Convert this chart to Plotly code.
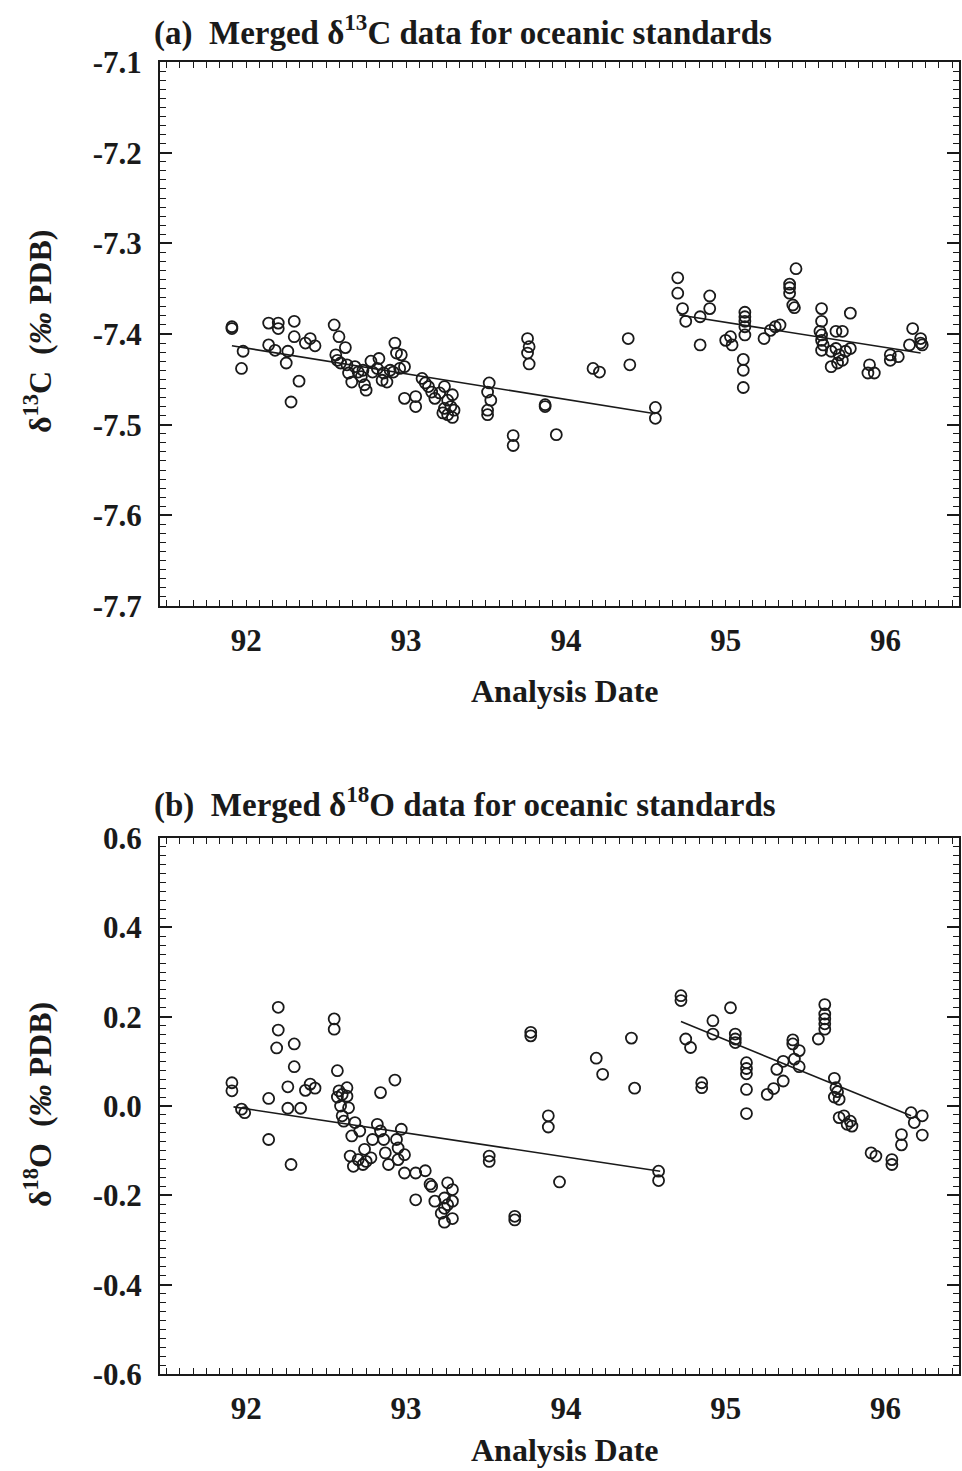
import plotly.graph_objects as go

# ---- (a) delta 13C, oceanic standards ----
c13_date = [91.91, 91.91, 91.98, 91.97, 92.14, 92.20, 92.20, 92.30, 92.14, 92.18,
            92.26, 92.30, 92.25, 92.37, 92.40, 92.43, 92.33, 92.28, 92.55, 92.58,
            92.62, 92.56, 92.57, 92.59, 92.63, 92.64, 92.66, 92.68, 92.70, 92.72,
            92.74, 92.75, 92.73, 92.78, 92.79, 92.83, 92.82, 92.85, 92.88, 92.86,
            92.90, 92.93, 92.94, 92.97, 92.96, 92.99, 92.92, 92.99, 93.06, 93.06,
            93.10, 93.12, 93.14, 93.16, 93.18, 93.21, 93.24, 93.26, 93.28, 93.29,
            93.24, 93.26, 93.29, 93.30, 93.23, 93.52, 93.51, 93.53, 93.51, 93.51,
            93.76, 93.77, 93.76, 93.77, 93.87, 93.87, 93.67, 93.67, 93.94, 94.17,
            94.21, 94.39, 94.40, 94.56, 94.56, 94.70, 94.70, 94.73, 94.75, 94.84,
            94.90, 94.90, 94.84, 95.00, 95.03, 95.04, 95.12, 95.12, 95.12, 95.12,
            95.12, 95.11, 95.11, 95.11, 95.24, 95.28, 95.31, 95.34, 95.44, 95.40,
            95.40, 95.40, 95.42, 95.43, 95.60, 95.60, 95.59, 95.60, 95.60, 95.61,
            95.60, 95.69, 95.73, 95.78, 95.66, 95.69, 95.71, 95.75, 95.78, 95.66,
            95.70, 95.73, 95.90, 95.89, 95.93, 96.03, 96.03, 96.08, 96.17, 96.15,
            96.22, 96.22, 96.23]
c13_val = [-7.394, -7.392, -7.419, -7.438, -7.388, -7.388, -7.394, -7.386, -7.412, -7.418,
           -7.419, -7.403, -7.432, -7.410, -7.405, -7.413, -7.452, -7.475, -7.390, -7.403,
           -7.415, -7.423, -7.429, -7.432, -7.434, -7.443, -7.453, -7.436, -7.442, -7.447,
           -7.456, -7.462, -7.440, -7.430, -7.442, -7.427, -7.438, -7.451, -7.453, -7.443,
           -7.440, -7.410, -7.421, -7.423, -7.438, -7.436, -7.442, -7.471, -7.469, -7.480,
           -7.449, -7.454, -7.458, -7.464, -7.471, -7.465, -7.458, -7.473, -7.480, -7.467,
           -7.482, -7.489, -7.492, -7.484, -7.487, -7.454, -7.464, -7.473, -7.484, -7.489,
           -7.405, -7.414, -7.421, -7.433, -7.478, -7.480, -7.512, -7.523, -7.511, -7.438,
           -7.442, -7.405, -7.434, -7.481, -7.493, -7.338, -7.355, -7.372, -7.386, -7.381,
           -7.358, -7.372, -7.412, -7.407, -7.403, -7.412, -7.376, -7.381, -7.386, -7.392,
           -7.401, -7.428, -7.440, -7.459, -7.405, -7.396, -7.392, -7.390, -7.328, -7.345,
           -7.349, -7.355, -7.368, -7.371, -7.372, -7.386, -7.397, -7.401, -7.407, -7.412,
           -7.418, -7.397, -7.397, -7.377, -7.419, -7.416, -7.423, -7.419, -7.416, -7.436,
           -7.432, -7.429, -7.434, -7.443, -7.443, -7.423, -7.429, -7.425, -7.394, -7.412,
           -7.405, -7.410, -7.412]
# regression segments (before / after the 1994 break)
c13_fit1_x = [91.91, 94.56]
c13_fit1_y = [-7.413, -7.488]
c13_fit2_x = [94.71, 96.22]
c13_fit2_y = [-7.379, -7.421]

# ---- (b) delta 18O, oceanic standards ----
o18_date = [91.91, 91.91, 91.97, 91.99, 92.14, 92.14, 92.20, 92.20, 92.19, 92.30,
            92.30, 92.26, 92.26, 92.34, 92.28, 92.37, 92.40, 92.43, 92.55, 92.55,
            92.57, 92.58, 92.57, 92.60, 92.63, 92.63, 92.59, 92.64, 92.60, 92.61,
            92.68, 92.66, 92.71, 92.65, 92.67, 92.70, 92.73, 92.75, 92.78, 92.74,
            92.79, 92.82, 92.84, 92.86, 92.87, 92.89, 92.94, 92.95, 92.97, 92.99,
            92.95, 92.93, 92.84, 92.99, 93.06, 93.12, 93.15, 93.16, 93.06, 93.26,
            93.29, 93.18, 93.24, 93.26, 93.29, 93.24, 93.22, 93.29, 93.24, 93.78,
            93.78, 93.89, 93.89, 93.52, 93.52, 93.68, 93.68, 93.96, 94.19, 94.23,
            94.41, 94.43, 94.58, 94.58, 94.72, 94.72, 94.75, 94.78, 94.85, 94.85,
            94.92, 94.92, 95.03, 95.06, 95.06, 95.06, 95.13, 95.13, 95.13, 95.13,
            95.13, 95.26, 95.30, 95.36, 95.32, 95.36, 95.42, 95.42, 95.46, 95.43,
            95.46, 95.62, 95.62, 95.62, 95.62, 95.62, 95.58, 95.68, 95.69, 95.68,
            95.71, 95.70, 95.71, 95.74, 95.78, 95.76, 95.79, 95.91, 95.94, 96.04,
            96.04, 96.10, 96.10, 96.16, 96.23, 96.18, 96.23]
o18_val = [0.052, 0.034, -0.007, -0.015, 0.017, -0.075, 0.221, 0.170, 0.130, 0.139,
           0.088, 0.043, -0.005, -0.005, -0.131, 0.035, 0.049, 0.040, 0.195, 0.172,
           0.079, 0.034, 0.020, 0.026, 0.041, 0.022, 0.000, -0.004, -0.022, -0.034,
           -0.037, -0.067, -0.056, -0.112, -0.135, -0.120, -0.131, -0.124, -0.116, -0.097,
           -0.075, -0.041, -0.056, -0.075, -0.105, -0.131, -0.075, -0.094, -0.052, -0.109,
           -0.120, 0.058, 0.030, -0.150, -0.150, -0.145, -0.175, -0.180, -0.210, -0.172,
           -0.187, -0.213, -0.206, -0.221, -0.213, -0.229, -0.240, -0.252, -0.260, 0.165,
           0.157, -0.022, -0.047, -0.112, -0.124, -0.247, -0.255, -0.170, 0.107, 0.071,
           0.152, 0.040, -0.146, -0.167, 0.247, 0.236, 0.150, 0.131, 0.052, 0.041,
           0.191, 0.161, 0.220, 0.161, 0.150, 0.142, 0.097, 0.084, 0.072, 0.037,
           -0.017, 0.026, 0.039, 0.056, 0.082, 0.100, 0.148, 0.139, 0.124, 0.105,
           0.088, 0.227, 0.206, 0.195, 0.184, 0.172, 0.150, 0.062, 0.041, 0.020,
           0.015, 0.032, -0.026, -0.022, -0.034, -0.041, -0.045, -0.105, -0.112, -0.120,
           -0.131, -0.064, -0.087, -0.015, -0.022, -0.037, -0.065]
o18_fit1_x = [91.92, 94.59]
o18_fit1_y = [-0.002, -0.146]
o18_fit2_x = [94.72, 96.16]
o18_fit2_y = [0.189, -0.022]

year_ticks = [92, 93, 94, 95, 96]
year_bounds = [91.5, 92.5, 93.5, 94.5, 95.5, 96.5]
c13_ticks = [-7.7, -7.6, -7.5, -7.4, -7.3, -7.2, -7.1]
o18_ticks = [-0.6, -0.4, -0.2, 0.0, 0.2, 0.4, 0.6]

W, H = 962, 1471
FONT = 'Liberation Serif'
INK = '#1a1a1a'

marker = dict(symbol='circle-open', size=11, color=INK, line=dict(width=1.8, color=INK))
fitline = dict(color=INK, width=1.6)

fig = go.Figure()
fig.add_trace(go.Scatter(x=c13_date, y=c13_val, mode='markers', marker=marker, xaxis='x', yaxis='y'))
fig.add_trace(go.Scatter(x=c13_fit1_x, y=c13_fit1_y, mode='lines', line=fitline, xaxis='x', yaxis='y'))
fig.add_trace(go.Scatter(x=c13_fit2_x, y=c13_fit2_y, mode='lines', line=fitline, xaxis='x', yaxis='y'))
fig.add_trace(go.Scatter(x=o18_date, y=o18_val, mode='markers', marker=marker, xaxis='x2', yaxis='y2'))
fig.add_trace(go.Scatter(x=o18_fit1_x, y=o18_fit1_y, mode='lines', line=fitline, xaxis='x2', yaxis='y2'))
fig.add_trace(go.Scatter(x=o18_fit2_x, y=o18_fit2_y, mode='lines', line=fitline, xaxis='x2', yaxis='y2'))

xr = [91.46, 96.46]
xdom = [160 / W, 959 / W]
ydom_a = [1 - 606 / H, 1 - 62 / H]
ydom_b = [1 - 1374 / H, 1 - 838 / H]
tickfont = dict(family=FONT, size=31, color=INK, weight='bold')

def xaxis_main(anchor):
    return dict(domain=xdom, range=xr, anchor=anchor, automargin=False,
                tickvals=year_ticks, ticktext=[str(v) for v in year_ticks],
                ticks='', showgrid=False, zeroline=False,
                showline=True, linecolor=INK, linewidth=2, mirror='allticks',
                tickfont=tickfont, ticklabelstandoff=6,
                minor=dict(ticks='inside', tick0=91.5, dtick=1 / 12, ticklen=6,
                           tickcolor=INK, tickwidth=1.2, showgrid=False))

def xaxis_bounds(anchor, over):
    return dict(domain=xdom, range=xr, anchor=anchor, overlaying=over, automargin=False,
                tickvals=year_bounds, ticks='inside', ticklen=12, tickwidth=1.5,
                tickcolor=INK, showticklabels=False, showgrid=False, zeroline=False,
                showline=True, linecolor=INK, linewidth=2, mirror='allticks')

def yaxis_main(anchor, dom, rng, vals, minor_dt, fmt):
    return dict(domain=dom, range=rng, anchor=anchor, automargin=False,
                tickvals=vals, ticktext=[fmt.format(v).replace('−', '-') for v in vals],
                ticks='inside', ticklen=12, tickwidth=1.5, tickcolor=INK,
                showgrid=False, zeroline=False,
                showline=True, linecolor=INK, linewidth=2, mirror='allticks',
                tickfont=tickfont, ticklabelstandoff=10,
                minor=dict(ticks='inside', dtick=minor_dt, ticklen=6,
                           tickcolor=INK, tickwidth=1.2, showgrid=False))

fig.update_layout(
    width=W, height=H, autosize=False,
    margin=dict(l=0, r=0, t=0, b=0, pad=0, autoexpand=False),
    paper_bgcolor='white', plot_bgcolor='white',
    showlegend=False,
    xaxis=xaxis_main('y'),
    xaxis3=xaxis_bounds('y', 'x'),
    yaxis=yaxis_main('x', ydom_a, [-7.7, -7.1], c13_ticks, 0.01, '{:.1f}'),
    xaxis2=xaxis_main('y2'),
    xaxis4=xaxis_bounds('y2', 'x2'),
    yaxis2=yaxis_main('x2', ydom_b, [-0.6, 0.6], o18_ticks, 0.02, '{:.1f}'),
)

headfont = dict(family=FONT, size=33, color=INK, weight='bold')
labelfont = dict(family=FONT, size=32, color=INK, weight='bold')
notes = [
    dict(text='(a)  Merged δ<sup>13</sup>C data for oceanic standards', x=152 / W, y=1 - 31 / H,
         xanchor='left', yanchor='middle', font=headfont),
    dict(text='(b)  Merged δ<sup>18</sup>O data for oceanic standards', x=152 / W, y=1 - 802 / H,
         xanchor='left', yanchor='middle', font=headfont),
    dict(text='Analysis Date', x=565 / W, y=1 - 691 / H, xanchor='center', yanchor='middle',
         font=labelfont),
    dict(text='Analysis Date', x=565 / W, y=1 - 1450 / H, xanchor='center', yanchor='middle',
         font=labelfont),
    dict(text='δ<sup>13</sup>C  (<i>‰</i> PDB)', x=38 / W, y=1 - 332 / H, xanchor='center',
         yanchor='middle', textangle=-90, font=labelfont),
    dict(text='δ<sup>18</sup>O  (<i>‰</i> PDB)', x=38 / W, y=1 - 1105 / H, xanchor='center',
         yanchor='middle', textangle=-90, font=labelfont),
]
for n in notes:
    fig.add_annotation(xref='paper', yref='paper', showarrow=False, **n)

# no page margin, so the 962x1471 figure fills the window exactly
fig.write_html('out.html', config={'displayModeBar': False},
               post_script="document.body.style.margin='0';")
